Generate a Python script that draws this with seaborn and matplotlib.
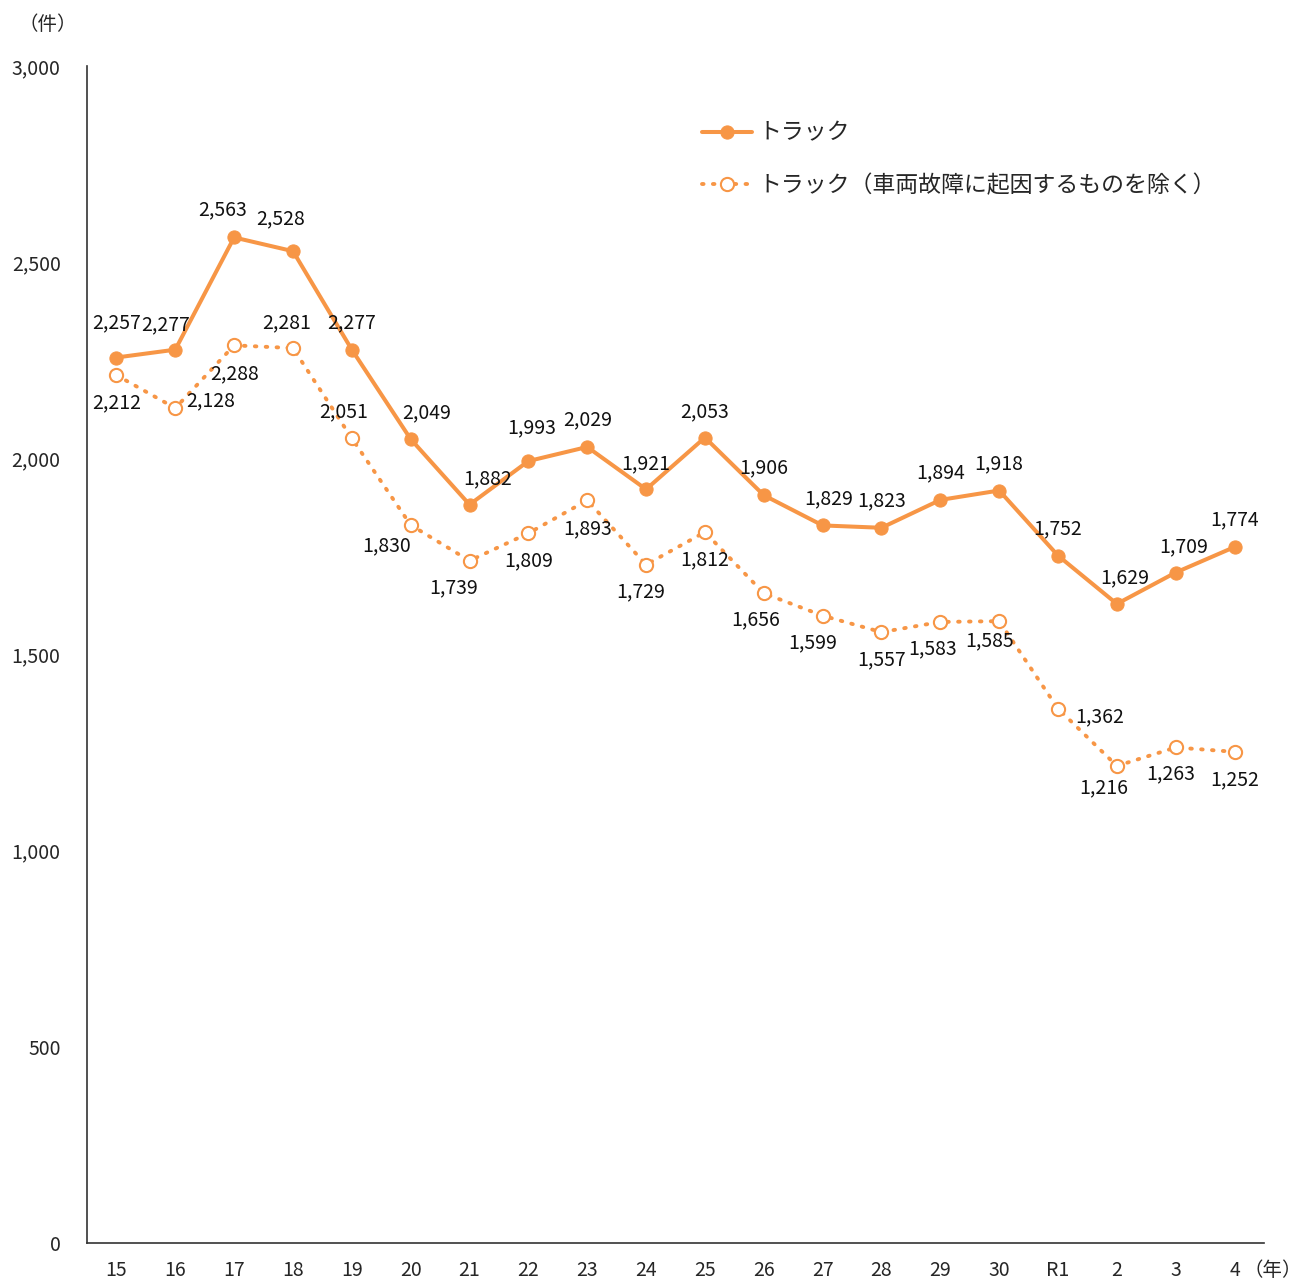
import numpy as np
import pandas as pd
import matplotlib
matplotlib.use("Agg")
import matplotlib.pyplot as plt
from matplotlib.ticker import FixedLocator, FuncFormatter
import seaborn as sns

# data
years = ["15", "16", "17", "18", "19", "20", "21", "22", "23", "24",
         "25", "26", "27", "28", "29", "30", "R1", "2", "3", "4"]
truck_all = [2257, 2277, 2563, 2528, 2277, 2049, 1882, 1993, 2029, 1921,
             2053, 1906, 1829, 1823, 1894, 1918, 1752, 1629, 1709, 1774]
truck_excl = [2212, 2128, 2288, 2281, 2051, 1830, 1739, 1809, 1893, 1729,
              1812, 1656, 1599, 1557, 1583, 1585, 1362, 1216, 1263, 1252]
name_all = "トラック"
name_excl = "トラック（車両故障に起因するものを除く）"

# label offsets in pixels (dx, dy)
off_all = [(0, 35), (-10, 25), (-12, 28), (-12, 32), (0, 27), (16, 26), (18, 26),
           (3, 33), (0, 27), (0, 26), (0, 26), (0, 27), (6, 27), (0, 27),
           (0, 27), (0, 27), (0, 27), (8, 26), (8, 26), (0, 27)]
off_excl = [(0, -28), (35, 7), (0, -28), (-6, 25), (-8, 27), (-24, -21), (-16, -27),
            (0, -28), (0, -28), (-5, -27), (0, -28), (-8, -27), (-10, -27), (0, -28),
            (-8, -27), (-10, -20), (42, -8), (-13, -22), (-5, -26), (0, -28)]

orange = "#F79646"
fs = 14

sns.set_style("white")
plt.rcParams["font.family"] = ["Noto Sans CJK JP", "DejaVu Sans"]

df = pd.DataFrame({"x": np.arange(len(years)), "all": truck_all, "excl": truck_excl})

fig = plt.figure(figsize=(13.04, 12.81), dpi=100)
ax = fig.add_axes([87 / 1304, 38 / 1281, (1264 - 87) / 1304, (1243 - 66) / 1281])

sns.lineplot(data=df, x="x", y="all", ax=ax, color=orange, linewidth=2.9,
             marker="o", markersize=9.5, markerfacecolor=orange,
             markeredgecolor=orange, label=name_all)
sns.lineplot(data=df, x="x", y="excl", ax=ax, color=orange, linewidth=2.8,
             linestyle=(0, (0.4, 2.4)), dash_capstyle="round",
             marker="o", markersize=9.5, markerfacecolor="white",
             markeredgecolor=orange, markeredgewidth=1.5, label=name_excl)

for i in range(len(years)):
    ax.annotate(f"{truck_all[i]:,}", (df["x"][i], truck_all[i]),
                xytext=off_all[i], textcoords="offset pixels",
                ha="center", va="center", fontsize=fs, color="#111111")
    ax.annotate(f"{truck_excl[i]:,}", (df["x"][i], truck_excl[i]),
                xytext=off_excl[i], textcoords="offset pixels",
                ha="center", va="center", fontsize=fs, color="#111111")

ax.set_xlim(-0.5, len(years) - 0.5)
ax.set_ylim(0, 3000)
ax.set_xticks(np.arange(len(years)))
ax.set_xticklabels(years)
ax.xaxis.set_minor_locator(FixedLocator(np.arange(0.5, len(years), 1.0)))
ax.tick_params(axis="x", which="major", length=0, pad=12, labelsize=fs)
ax.tick_params(axis="x", which="minor", direction="in", length=6, width=1, color="#333333")
ax.set_yticks(np.arange(0, 3001, 500))
ax.yaxis.set_major_formatter(FuncFormatter(lambda v, p: f"{int(v):,}"))
ax.tick_params(axis="y", direction="in", length=5, width=1, pad=19, labelsize=fs,
               color="#333333")
ax.set_xlabel("")
ax.set_ylabel("")

for s in ["top", "right"]:
    ax.spines[s].set_visible(False)
for s in ["left", "bottom"]:
    ax.spines[s].set_color("#333333")
    ax.spines[s].set_linewidth(1.2)

fig.text(48 / 1304, 1 - 25 / 1281, "（件）", ha="center", va="center", fontsize=fs)
fig.text(1302 / 1304, 1 - 1270 / 1281, "（年）", ha="right", va="center", fontsize=fs)

ax.get_legend().remove()
handles, labels = ax.get_legend_handles_labels()
fig.legend(handles, labels, loc="upper left", bbox_to_anchor=(681 / 1304, 1 - 101 / 1281),
           frameon=False, fontsize=16.5, handlelength=2.2, handletextpad=0.3,
           labelspacing=1.3)

fig.savefig("out.png", dpi=100)
